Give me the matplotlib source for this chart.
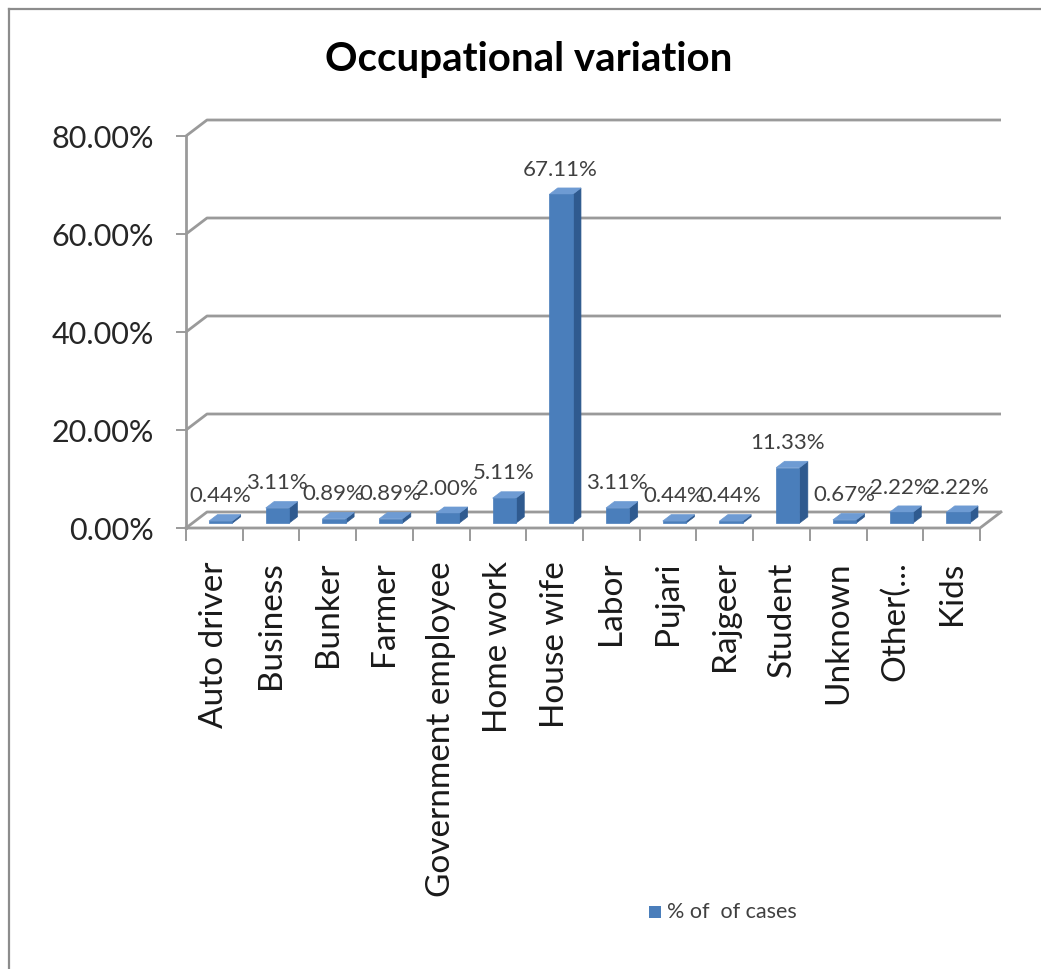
import matplotlib
matplotlib.use("Agg")
import matplotlib.pyplot as plt
from matplotlib.patches import Polygon, Rectangle
from matplotlib.lines import Line2D

categories = ["Auto driver", "Business", "Bunker", "Farmer", "Government employee",
              "Home work", "House wife", "Labor", "Pujari", "Rajgeer", "Student",
              "Unknown", "Other(...", "Kids"]
values = [0.44, 3.11, 0.89, 0.89, 2.00, 5.11, 67.11, 3.11, 0.44, 0.44, 11.33, 0.67, 2.22, 2.22]
yticks = [0, 20, 40, 60, 80]
title = "Occupational variation"
legend_label = "% of  of cases"

FONT = "Lato"
plt.rcParams['font.family'] = [FONT, 'DejaVu Sans']

W, H = 1041, 969
fig = plt.figure(figsize=(W / 100, H / 100), dpi=100)

# chart frame
fig.add_artist(Line2D([9 / W, 9 / W], [0, 1 - 9 / H], color='#8c8c8c', lw=1.6))
fig.add_artist(Line2D([9 / W, 1], [1 - 9 / H, 1 - 9 / H], color='#8c8c8c', lw=1.6))

x0p, x1p, y0p, y1p = 186, 980, 528, 136
ax = fig.add_axes([x0p / W, 1 - y0p / H, (x1p - x0p) / W, (y0p - y1p) / H])
n = len(categories)
ax.set_xlim(0, n)
ax.set_ylim(0, 80)
for s in ax.spines.values():
    s.set_visible(False)

px_per_cat = (x1p - x0p) / n
px_per_pct = (y0p - y1p) / 80
DX = 21 / px_per_cat
DY = 16 / px_per_pct

gc = '#9a9a9a'
glw = 2.0
# gridlines with side wall diagonals
for v in yticks:
    ax.plot([0, DX, n + DX], [v, v + DY, v + DY], color=gc, lw=glw, clip_on=False,
            solid_capstyle='butt', zorder=1)
# left axis line
ax.plot([0, 0], [0, 80], color=gc, lw=glw, clip_on=False, zorder=1)
# floor front edge and right diagonal
ax.plot([0, n, n + DX], [0, 0, DY], color=gc, lw=glw, clip_on=False, zorder=1)

# bars
front_c = '#4a7ebb'
side_c = '#2f5a8f'
top_c = '#6e9bd3'
w = 0.41
f = 0.30
d = 0.40
for i, v in enumerate(values):
    c = i + 0.5
    xa = c - w / 2 + f * DX
    xb = c + w / 2 + f * DX
    yb = f * DY
    yt = yb + v
    ddx, ddy = d * DX, d * DY
    ax.add_patch(Polygon([(xb, yb), (xb + ddx, yb + ddy), (xb + ddx, yt + ddy), (xb, yt)],
                         closed=True, facecolor=side_c, edgecolor=side_c, lw=0.5,
                         clip_on=False, zorder=3))
    ax.add_patch(Polygon([(xa, yt), (xb, yt), (xb + ddx, yt + ddy), (xa + ddx, yt + ddy)],
                         closed=True, facecolor=top_c, edgecolor=top_c, lw=0.5,
                         clip_on=False, zorder=3))
    ax.add_patch(Rectangle((xa, yb), w, v, facecolor=front_c, edgecolor=front_c, lw=0.5,
                           clip_on=False, zorder=4))
    ax.annotate(f"{v:.2f}%", xy=(c + 0.28 * DX, yt + ddy), xytext=(0, 6),
                textcoords='offset points', ha='center', va='bottom',
                fontsize=16, color='#404040', zorder=5, annotation_clip=False)

# y ticks
ax.set_yticks(yticks)
ax.set_yticklabels([f"{v:.2f}%" for v in yticks])
ax.tick_params(axis='y', length=7.2, width=1.4, color=gc, pad=16, labelsize=22,
               labelcolor='#262626')

# x ticks: marks at boundaries (minor), labels at centers (major)
ax.set_xticks([i + 0.5 for i in range(n)])
ax.set_xticklabels(categories, rotation=90, ha='center', va='top')
ax.set_xticks(list(range(n + 1)), minor=True)
ax.tick_params(axis='x', which='major', length=0, pad=24, labelsize=24, labelcolor='#1a1a1a')
ax.tick_params(axis='x', which='minor', length=9, width=1.4, color=gc)

# title
fig.text(529 / W, 1 - 60 / H, title, ha='center', va='center', fontsize=29,
         fontweight='bold', color='#000000')

# legend
fig.add_artist(Rectangle((649 / W, 1 - 918 / H), 12 / W, 12 / H, transform=fig.transFigure,
                         facecolor=front_c, edgecolor='none'))
fig.text(667 / W, 1 - 912 / H, legend_label, ha='left', va='center', fontsize=15.5,
         color='#404040')

fig.savefig("out.png", dpi=100)
